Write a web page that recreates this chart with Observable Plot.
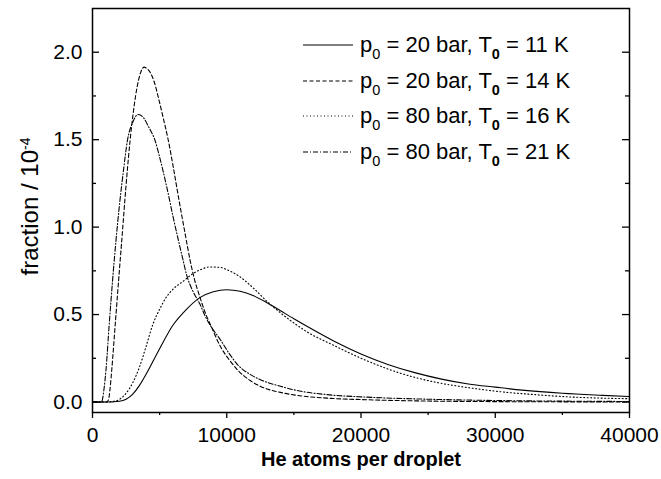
<!DOCTYPE html>
<html>
<head>
<meta charset="utf-8">
<script src="https://cdn.jsdelivr.net/npm/d3@7"></script>
<script src="https://cdn.jsdelivr.net/npm/@observablehq/plot@0.6"></script>
<style>
  html, body { margin: 0; padding: 0; background: #fff; }
  #wrap { position: relative; width: 661px; height: 479px; font-family: "Liberation Sans", Arial, sans-serif; }
  #legend { position: absolute; left: 303px; top: 27px; font-size: 22px; color: #000; }
  #legend .row { display: flex; align-items: center; height: 35.7px; white-space: nowrap; }
  #legend svg { width: 50px; height: 4px; margin-right: 7px; }
  #legend .sub { font-size: 14.5px; position: relative; top: 7px; }
  #legend .b { font-weight: bold; }
</style>
</head>
<body>
<div id="wrap"></div>
<script>
// ---- data ----
const xTicks = [0, 10000, 20000, 30000, 40000];
const xMinor = [5000, 15000, 25000, 35000];
const yTicks = [0, 0.5, 1.0, 1.5, 2.0];
const yMinor = [0.25, 0.75, 1.25, 1.75];

const xTitle = "He atoms per droplet";
const yTitle = "fraction / 10";
const yTitleSup = "-4";

// p0 = 20 bar, T0 = 11 K (solid)
const solidX = [0,1000,1500,2000,2500,3000,3500,4000,5000,6000,7000,8000,9000,10000,11000,12000,13000,14000,15000,16000,18000,20000,22000,24000,26000,28000,30000,32000,35000,38000,40000];
const solidY = [0,0,0.001,0.004,0.016,0.045,0.095,0.16,0.305,0.44,0.53,0.597,0.63,0.642,0.633,0.607,0.568,0.522,0.476,0.432,0.348,0.275,0.215,0.168,0.131,0.103,0.085,0.068,0.05,0.038,0.031];

// p0 = 20 bar, T0 = 14 K (dashed)
const dashX = [0,1000,1180,1300,1430,1700,2000,2180,2500,2800,3040,3420,3850,4000,4290,4600,4900,5250,5650,6000,6500,6900,7270,7600,8000,8400,8800,9580,10200,10850,11700,12640,14000,15220,17500,20400,25500,30600,35000,40000];
const dashY = [0,0,0.01,0.07,0.18,0.45,0.75,0.924,1.24,1.495,1.657,1.838,1.915,1.91,1.886,1.83,1.743,1.63,1.495,1.35,1.13,0.962,0.81,0.70,0.60,0.51,0.44,0.31,0.24,0.18,0.125,0.085,0.055,0.038,0.022,0.013,0.005,0.002,0.001,0];

// p0 = 80 bar, T0 = 16 K (dotted)
const dotX = [0,1000,1500,2000,2500,3000,3500,4000,4500,5000,5500,6000,6750,7500,8000,8700,9500,10000,11000,12000,13000,14000,15000,16000,17800,20400,23000,25500,28000,30600,33000,35800,38000,40000];
const dotY = [0,0,0.003,0.015,0.05,0.11,0.2,0.32,0.445,0.53,0.6,0.645,0.69,0.735,0.755,0.772,0.77,0.757,0.715,0.65,0.575,0.51,0.452,0.40,0.33,0.237,0.163,0.114,0.082,0.057,0.042,0.028,0.022,0.019];

// p0 = 80 bar, T0 = 21 K (dash-dot)
const ddX = [0,500,700,850,1000,1250,1500,1750,2000,2300,2600,3000,3420,3800,4200,4660,5000,5500,6000,6400,6750,7000,7500,8000,8400,8800,9580,10200,10850,11700,12640,14000,15220,17500,20400,25500,30600,35000,40000];
const ddY = [0,0,0.005,0.07,0.18,0.45,0.70,0.924,1.12,1.32,1.495,1.6,1.644,1.625,1.57,1.495,1.40,1.24,1.06,0.924,0.81,0.73,0.63,0.56,0.49,0.435,0.35,0.275,0.21,0.16,0.123,0.09,0.066,0.042,0.028,0.015,0.008,0.005,0.003];

const legendLabels = [
  {p: "20", T: "11", dash: null},
  {p: "20", T: "14", dash: "4,2.5"},
  {p: "80", T: "16", dash: "1,2.5"},
  {p: "80", T: "21", dash: "5,2,1,2"}
];

// ---- build ----
const zip = (xs, ys) => xs.map((x, i) => ({x, y: ys[i]}));
const W = 661, H = 479, mL = 92, mR = 32, mT = 8, mB = 67;
const plotW = W - mL - mR;

const lineOpts = {x: "x", y: "y", stroke: "black", strokeWidth: 1.1, curve: "monotone-x"};

const chart = Plot.plot({
  width: W, height: H,
  marginLeft: mL, marginRight: mR, marginTop: mT, marginBottom: mB,
  style: {fontFamily: "'Liberation Sans', Arial, sans-serif", fontSize: "21px", color: "black", background: "white", overflow: "visible"},
  x: {domain: [0, 40000]},
  y: {domain: [-0.06, 2.25]},
  marks: [
    Plot.line(zip(solidX, solidY), {...lineOpts}),
    Plot.line(zip(dashX, dashY), {...lineOpts, strokeDasharray: "4,2.5"}),
    Plot.line(zip(dotX, dotY), {...lineOpts, strokeDasharray: "1,2.5"}),
    Plot.line(zip(ddX, ddY), {...lineOpts, strokeDasharray: "5,2,1,2"}),
    Plot.axisX(xTicks, {tickSize: 6, tickPadding: 9, tickFormat: d => String(d), label: null, strokeWidth: 1.3}),
    Plot.axisX(xMinor, {tickSize: 3, tickFormat: () => "", label: null, strokeWidth: 1.3}),
    Plot.axisY(yTicks, {tickSize: 0, tickPadding: 10, tickFormat: d3.format(".1f"), label: null}),
    Plot.tickY(yTicks, {y: d => d, insetRight: plotW - 7, stroke: "black", strokeWidth: 1.3}),
    Plot.tickY(yMinor, {y: d => d, insetRight: plotW - 4, stroke: "black", strokeWidth: 1.3}),
    Plot.tickY(yTicks, {y: d => d, insetLeft: plotW - 7, stroke: "black", strokeWidth: 1.3}),
    Plot.tickY(yMinor, {y: d => d, insetLeft: plotW - 4, stroke: "black", strokeWidth: 1.3}),
    Plot.frame({stroke: "black", strokeWidth: 1.5}),
    Plot.text([xTitle], {text: d => d, frameAnchor: "bottom", dy: 53, fontWeight: "bold", fontSize: 20}),
    Plot.text([yTitle], {text: d => d, frameAnchor: "left", textAnchor: "middle", dx: -62, dy: -4, rotate: -90, fontSize: 24})
  ]
});

// superscript on y title
d3.select(chart).selectAll("text").filter(function() { return this.textContent === yTitle; })
  .each(function() {
    const t = d3.select(this);
    t.append("tspan").attr("dy", "-0.55em").attr("font-size", "14px").text(yTitleSup);
  });

const wrap = document.getElementById("wrap");
wrap.appendChild(chart);

// legend (line-style samples)
const leg = document.createElement("div");
leg.id = "legend";
leg.innerHTML = legendLabels.map(l => `
  <div class="row">
    <svg viewBox="0 0 50 4"><line x1="0" y1="2" x2="50" y2="2" stroke="black" stroke-width="1.1" ${l.dash ? `stroke-dasharray="${l.dash}"` : ""}/></svg>
    <span>p<span class="sub">0</span> = ${l.p} bar, T<span class="sub b">0</span> = ${l.T} K</span>
  </div>`).join("");
wrap.appendChild(leg);
</script>
</body>
</html>
